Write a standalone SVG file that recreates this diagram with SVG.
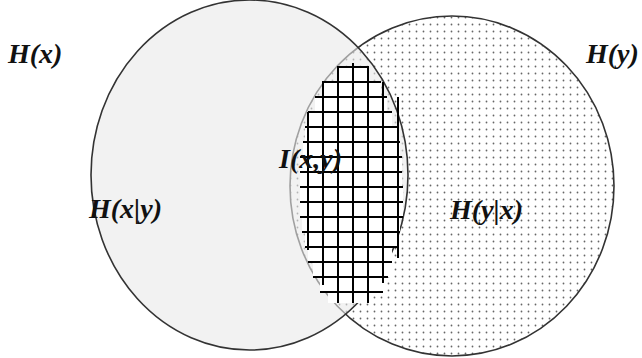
<svg xmlns="http://www.w3.org/2000/svg" width="642" height="358" viewBox="0 0 642 358">
  <style>
    .lbl { font-family: "Liberation Serif", "Times New Roman", serif; font-weight: bold; font-style: italic; font-size: 28px; fill: #111; }
    .grid line { stroke: #000; stroke-width: 2; }
    .outline { stroke: #333; stroke-width: 1.6; }
  </style>
  <defs>
    <pattern id="dots" width="7" height="7" patternUnits="userSpaceOnUse">
      <circle cx="3.5" cy="3.5" r="0.9" fill="#666"/>
    </pattern>
  </defs>
  <rect x="0" y="0" width="642" height="358" fill="#fff"/>

  <g id="set-y">
    <ellipse cx="452" cy="186" rx="162" ry="170" fill="url(#dots)" class="outline"/>
  </g>
  <g id="set-x">
    <ellipse cx="249.5" cy="175" rx="158.5" ry="175" fill="#e9e9e9" fill-opacity="0.6" class="outline"/>
  </g>

  <g id="intersection">
    <path fill="#fff" d="M337,67 H369 V82 H381 V97 H387 V112 H392 V127 H397 V142 H400 V157 H402 V187 H403 V217 H400 V232 H397 V247 H392 V262 H390 V277 H383 V292 H373 V303 H328 V292 H320 V277 H313 V262 H308 V247 H305 V232 H302 V217 H300 V157 H303 V142 H305 V127 H308 V112 H315 V97 H322 V82 H337 Z"/>
    <g class="grid">
      <line x1="337" y1="67" x2="369" y2="67"/>
      <line x1="322" y1="82" x2="381" y2="82"/>
      <line x1="315" y1="97" x2="387" y2="97"/>
      <line x1="308" y1="112" x2="392" y2="112"/>
      <line x1="305" y1="127" x2="397" y2="127"/>
      <line x1="303" y1="142" x2="400" y2="142"/>
      <line x1="300" y1="157" x2="402" y2="157"/>
      <line x1="300" y1="172" x2="402" y2="172"/>
      <line x1="300" y1="187" x2="403" y2="187"/>
      <line x1="300" y1="202" x2="403" y2="202"/>
      <line x1="300" y1="217" x2="403" y2="217"/>
      <line x1="302" y1="232" x2="400" y2="232"/>
      <line x1="305" y1="247" x2="397" y2="247"/>
      <line x1="308" y1="262" x2="392" y2="262"/>
      <line x1="313" y1="277" x2="388" y2="277"/>
      <line x1="320" y1="292" x2="383" y2="292"/>
      <line x1="308" y1="112" x2="308" y2="250"/>
      <line x1="323" y1="82" x2="323" y2="285"/>
      <line x1="338" y1="67" x2="338" y2="303"/>
      <line x1="353" y1="63" x2="353" y2="303"/>
      <line x1="368" y1="67" x2="368" y2="303"/>
      <line x1="383" y1="82" x2="383" y2="283"/>
      <line x1="398" y1="97" x2="398" y2="258"/>
    </g>
  </g>

  <g id="labels">
    <text class="lbl" x="8" y="63">H(x)</text>
    <text class="lbl" x="586" y="63">H(y)</text>
    <text class="lbl" x="279" y="168">I(x,y)</text>
    <text class="lbl" x="89" y="218">H(x|y)</text>
    <text class="lbl" x="450" y="219">H(y|x)</text>
  </g>
</svg>
